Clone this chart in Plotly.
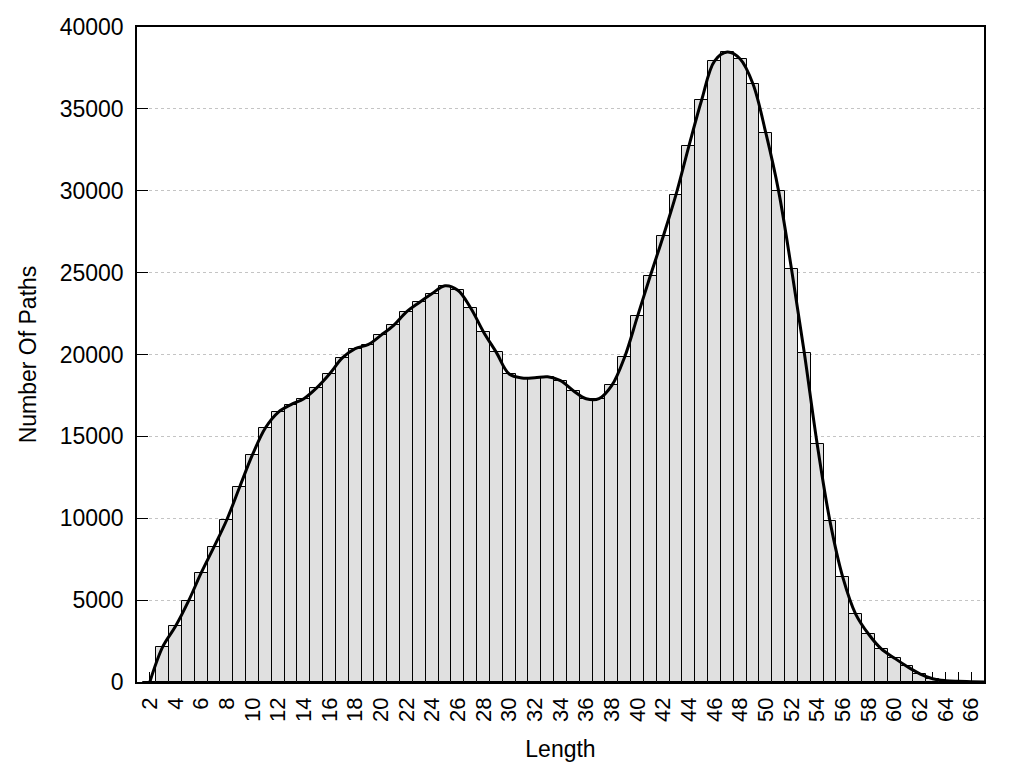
import plotly.graph_objects as go

# Path lengths and counts
lengths = list(range(2, 68))
counts = [
    0, 2140, 3400, 4920, 6660, 8250, 9910, 11910, 13880, 15510,
    16470, 16940, 17300, 17960, 18810, 19790, 20360, 20600, 21170, 21780,
    22600, 23180, 23720, 24200, 23920, 22840, 21380, 20130, 18810, 18570,
    18580, 18640, 18400, 17790, 17300, 17300, 18110, 19850, 22330, 24810,
    27210, 29760, 32710, 35540, 37920, 38470, 38050, 36520, 33530, 29960,
    25220, 20090, 14540, 9810, 6390, 4150, 2930, 2020, 1470, 950,
    500, 200, 80, 40, 20, 0,
]

x_tick_values = list(range(2, 67))
x_tick_labels = [str(v) if v % 2 == 0 else "" for v in x_tick_values]
y_tick_values = [0, 5000, 10000, 15000, 20000, 25000, 30000, 35000, 40000]
y_tick_labels = [str(v) for v in y_tick_values]

FONT = "Liberation Sans, Arial, sans-serif"

fig = go.Figure()
fig.add_trace(go.Bar(
    x=lengths, y=counts, width=1,
    marker=dict(color="#e0e0e0", line=dict(color="black", width=1)),
    showlegend=False, hoverinfo="x+y",
))
fig.add_trace(go.Scatter(
    x=lengths, y=counts, mode="lines",
    line=dict(color="black", width=3, shape="spline", smoothing=1),
    showlegend=False, hoverinfo="skip",
))

# the page body has an 8px margin, so the margins are shifted by 8px
fig.update_layout(
    width=1024, height=768,
    margin=dict(l=129, r=48, t=19, b=94, autoexpand=False),
    paper_bgcolor="white", plot_bgcolor="white",
    font=dict(family=FONT, size=23, color="black"),
    bargap=0,
)
fig.update_xaxes(
    range=[1, 67], tickmode="array", tickvals=x_tick_values, ticktext=x_tick_labels,
    tickangle=-90, ticks="inside", ticklen=10, tickwidth=1, tickcolor="black",
    tickfont=dict(size=22),
    showline=True, linecolor="black", linewidth=1.5, mirror=True,
    showgrid=False, zeroline=False, layer="below traces",
    ticklabelstandoff=5,
    title=dict(text="Length", standoff=20, font=dict(size=23)),
    automargin=False,
)
fig.update_yaxes(
    range=[0, 40000], tickmode="array", tickvals=y_tick_values, ticktext=y_tick_labels,
    ticks="inside", ticklen=11, tickwidth=1, tickcolor="black",
    tickfont=dict(size=23),
    showline=True, linecolor="black", linewidth=1.5, mirror=True,
    showgrid=True, gridcolor="#c4c4c4", griddash="dot", gridwidth=1,
    zeroline=False, ticklabelstandoff=7,
    title=dict(text="Number Of Paths", standoff=17, font=dict(size=23)),
    automargin=False,
)

fig.write_html("out.html")
